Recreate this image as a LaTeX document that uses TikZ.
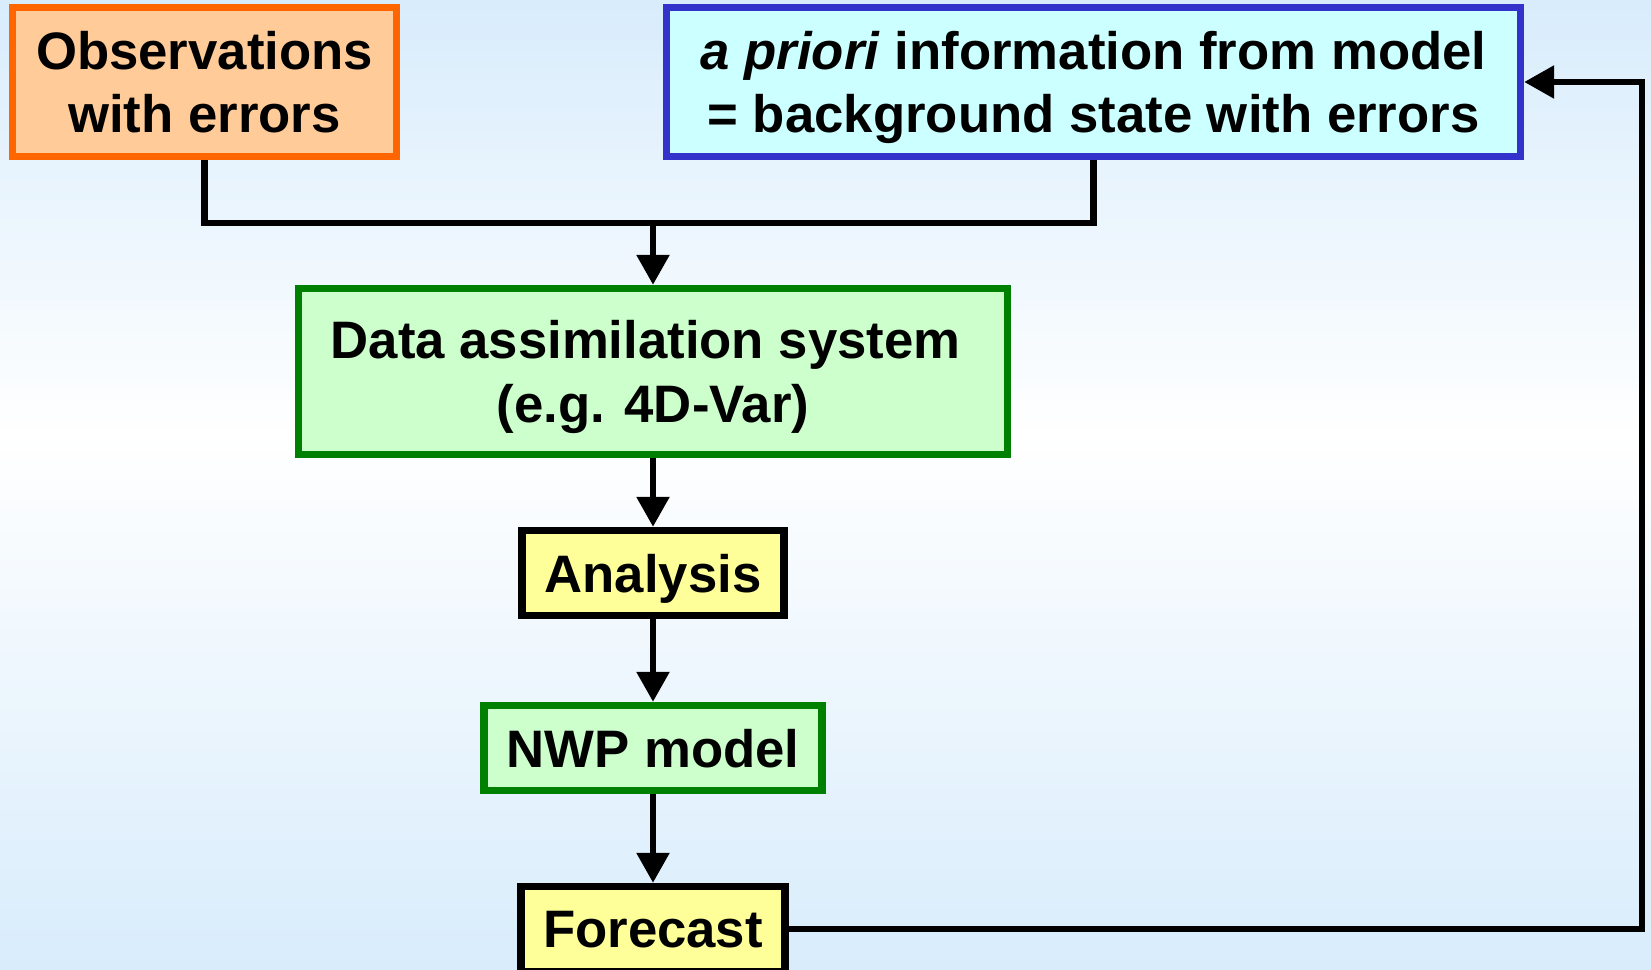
\documentclass[tikz,border=0pt]{standalone}
\usepackage{fontspec}
\setmainfont{Liberation Sans}
\usetikzlibrary{arrows.meta}

\definecolor{obsline}{HTML}{FF6600}
\definecolor{obsfill}{HTML}{FFCC99}
\definecolor{bgline}{HTML}{3333CC}
\definecolor{bgfill}{HTML}{CCFFFF}
\definecolor{modline}{HTML}{008000}
\definecolor{modfill}{HTML}{CCFFCC}
\definecolor{resfill}{HTML}{FFFF99}
\definecolor{skyedge}{HTML}{D8ECFC}

\begin{document}
\begin{tikzpicture}[
box/.style={
  draw,
  line width=2.1pt,
  align=center,
  inner sep=0pt,
  text depth=0pt,
  font=\fontsize{15}{18}\selectfont\bfseries
  },
obsbox/.style={box, draw=obsline, fill=obsfill},
bgbox/.style={box, draw=bgline, fill=bgfill},
modbox/.style={box, draw=modline, fill=modfill},
resbox/.style={box, draw=black, fill=resfill},
link/.style={line width=1.8pt},
>={Triangle[length=8.5pt,width=9pt]}
]

\useasboundingbox (0,0) rectangle (16.51,9.70);

% sky background, pale at the edges, white a little above the middle
\foreach \i in {0,...,96}
{
  \pgfmathsetmacro{\fr}{(\i+0.5)/97}
  \pgfmathsetmacro{\pc}{\fr<0.45 ? 100*(0.45-\fr)/0.45 : 100*(\fr-0.45)/0.55}
  \fill[skyedge!\pc!white] (0,9.70-\i*0.1) rectangle (16.51,9.70-\i*0.1-0.11);
}

\node[obsbox, minimum width=3.84cm, minimum height=1.49cm] (obs) at (2.045,8.88)
  {Observations\\with errors};
\node[bgbox, minimum width=8.54cm, minimum height=1.49cm] (apri) at (10.935,8.88)
  {\textit{a priori} information from model\\= background state with errors};
\node[modbox, minimum width=7.09cm, minimum height=1.66cm] (das) at (6.53,5.985)
  {Data assimilation system\hspace*{4.2pt}\\(e.g. 4D-Var)};
\node[resbox, minimum width=2.62cm, minimum height=0.85cm] (ana) at (6.53,3.97) {Analysis};
\node[modbox, minimum width=3.38cm, minimum height=0.85cm] (nwp) at (6.53,2.22) {NWP model};
\node[resbox, minimum width=2.64cm, minimum height=0.85cm] (fc) at (6.53,0.41) {Forecast};

\coordinate (join) at (6.53,7.47);
\coordinate (back) at (16.42,4.5);

% merge of the two inputs
\draw[link] (obs.south) |- (join) -| (apri.south);
\draw[link][->] (join) -- (das.north);

% main chain
\draw[link][->] (das.south) -- (ana.north);
\draw[link][->] (ana.south) -- (nwp.north);
\draw[link][->] (nwp.south) -- (fc.north);

% cycling back to the background
\draw[link][->] (fc.east) -| (back) |- (apri.east);

\end{tikzpicture}
\end{document}
